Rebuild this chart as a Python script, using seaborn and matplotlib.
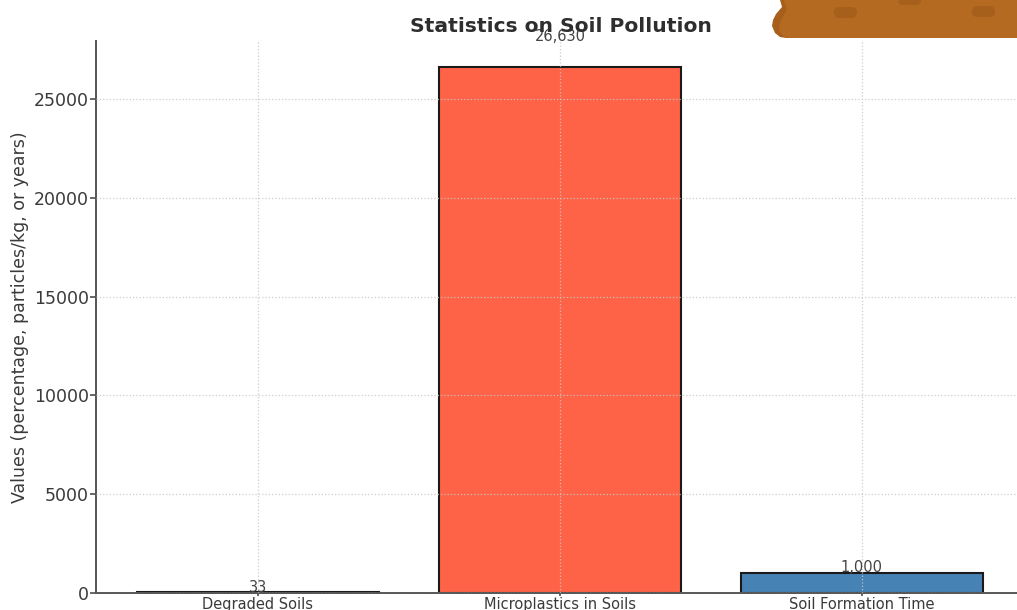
import matplotlib
matplotlib.use('Agg')
import matplotlib.pyplot as plt
import seaborn as sns
import pandas as pd
from matplotlib.patches import FancyBboxPatch, Polygon
from matplotlib.transforms import Affine2D

# Data
categories = ['Degraded Soils', 'Microplastics in Soils', 'Soil Formation Time']
values = [33, 26630, 1000]
value_labels = ['33', '26,630', '1,000']
bar_colors = ['#8B4513', '#FF6347', '#4682B4']
y_ticks = [0, 5000, 10000, 15000, 20000, 25000]

W, H = 1017, 610
TEXT = '#3a3a3a'

sns.set_theme(style='white')
plt.rcParams['font.family'] = ['DejaVu Sans']

fig = plt.figure(figsize=(W / 100, H / 100), dpi=100)
ax = fig.add_axes([96 / W, 1 - 592.5 / H, (W + 40 - 96) / W, (592.5 - 41) / H])

df = pd.DataFrame({'category': categories, 'value': values})
sns.barplot(data=df, x='category', y='value', hue='category', palette=bar_colors,
            saturation=1, width=0.8, edgecolor='#1a1a1a', linewidth=1.5, legend=False, ax=ax)

# Bar labels
for i, (v, lab) in enumerate(zip(values, value_labels)):
    ax.text(i, v * 1.05 - 150, lab, ha='center', va='bottom', fontsize=10.5, color='#444444')

ax.set_xlim(-0.536, 2.646)
ax.set_ylim(0, 27960)
ax.set_yticks(y_ticks)
ax.grid(True, linestyle=':', linewidth=0.9, color='#c8c8c8', alpha=0.9)
ax.set_axisbelow(False)

ax.set_xlabel('')
ax.set_ylabel('Values (percentage, particles/kg, or years)', fontsize=12.5, color=TEXT)
ax.yaxis.set_label_coords((29 - 96) / (W + 40 - 96), 0.5)
ax.tick_params(axis='y', labelsize=12.5, labelcolor=TEXT, left=True, length=4, color='#555555', pad=1)
ax.tick_params(axis='x', labelsize=10.5, labelcolor=TEXT, bottom=True, length=2, color='#555555', pad=1)

for s in ['top', 'right']:
    ax.spines[s].set_visible(False)
for s in ['left', 'bottom']:
    ax.spines[s].set_color('#555555')
    ax.spines[s].set_linewidth(1.4)

fig.text(560.5 / W, 1 - 26 / H, 'Statistics on Soil Pollution', ha='center', va='center',
         fontsize=14.6, fontweight='bold', color='#2e2e2e')

# Soil decoration in the top right corner, in pixels from the top left
px = Affine2D().scale(1, -1).translate(0, H)
soil = '#B56A22'
dark = '#A75F1C'
fig.add_artist(Polygon([(780, 0), (782, 7), (776, 14), (773, 20), (772, 26), (775, 33),
                        (780, 37), (786, 38), (800, 38), (800, 0)],
                       closed=True, transform=px, fc=dark, ec='none'))
fig.add_artist(Polygon([(784, 0), (1017, 0), (1017, 38), (788, 38), (783, 36), (780, 32),
                        (779, 27), (781, 20), (787, 10)],
                       closed=True, transform=px, fc=soil, ec='none'))
for sx, sy in [(834, 7), (898, -6), (972, 6)]:
    fig.add_artist(FancyBboxPatch((sx, sy), 23, 11, boxstyle='round,pad=0,rounding_size=5.5',
                                  transform=px, fc=dark, ec='none'))

fig.savefig('out.png', dpi=100)
